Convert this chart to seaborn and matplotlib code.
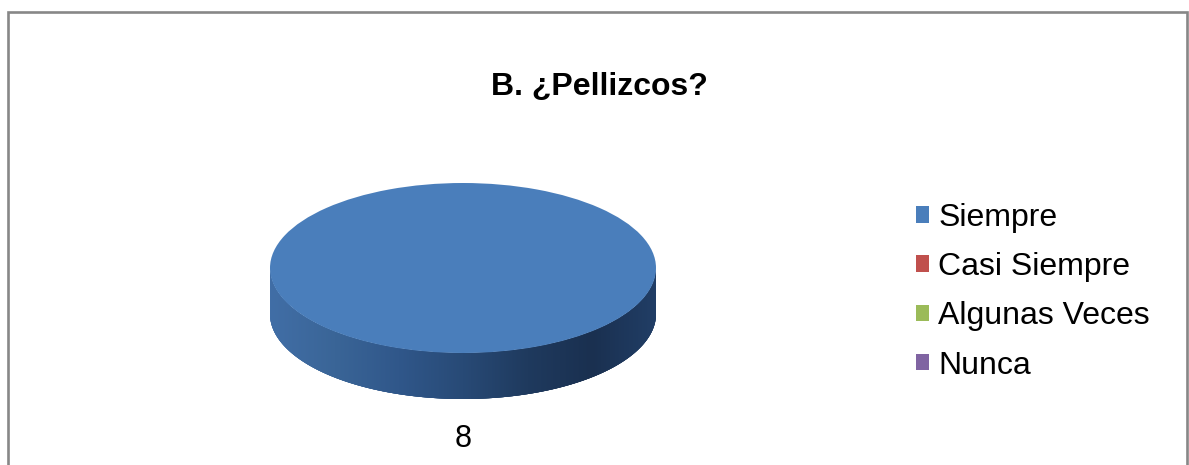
import numpy as np
import matplotlib
matplotlib.use("Agg")
import matplotlib.pyplot as plt
import seaborn as sns
from matplotlib.patches import Patch, Rectangle, PathPatch
from matplotlib.path import Path
from matplotlib.colors import LinearSegmentedColormap

# Survey answers for question B
categories = ["Siempre", "Casi Siempre", "Algunas Veces", "Nunca"]
counts = [8, 0, 0, 0]
title = "B. ¿Pellizcos?"

sns.set_theme(style="white")
plt.rcParams["font.family"] = ["Liberation Sans", "DejaVu Sans"]
plt.rcParams["text.color"] = "black"

palette = sns.color_palette(["#4a7ebb", "#c0504d", "#9bbb59", "#8064a2"])

W, H = 1189, 465
fig = plt.figure(figsize=(W / 100, H / 100), dpi=100)
fig.patch.set_facecolor("white")

# pie geometry in pixels: horizontal radius, vertical radius, thickness
cx, cy = 463, 268
rx, ry = 193, 85
depth_px = 46
depth = depth_px / ry
ylo, yhi = -2.3, 1.25
xl = 1.25
ax = fig.add_axes([(cx - xl * rx) / W, (H - cy + ylo * ry) / H,
                   2 * xl * rx / W, (yhi - ylo) * ry / H])

wedges, _ = ax.pie(counts, colors=palette, startangle=90, counterclock=False,
                   wedgeprops=dict(linewidth=0))
ax.set_aspect("auto")
ax.set_xlim(-xl, xl)
ax.set_ylim(ylo, yhi)
ax.axis("off")

side_cmap = LinearSegmentedColormap.from_list(
    "side", ["#416ea6", "#3a6597", "#30578a", "#284a76", "#1f3a5e",
             "#1a3050", "#213e66"])

# side faces for the front-facing part of each wedge
for w in wedges:
    t1, t2 = sorted((w.theta1 % 360, w.theta2 % 360)) if (w.theta2 - w.theta1) < 360 else (180, 360)
    a, b = max(t1, 180), min(t2 if t2 > t1 else t2 + 360, 360)
    if b <= a:
        continue
    th = np.radians(np.linspace(a, b, 200))
    top = np.column_stack([np.cos(th), np.sin(th)])
    bot = np.column_stack([np.cos(th[::-1]), np.sin(th[::-1]) - depth])
    verts = np.vstack([top, bot, top[:1]])
    codes = [Path.MOVETO] + [Path.LINETO] * (len(verts) - 2) + [Path.CLOSEPOLY]
    clip = PathPatch(Path(verts, codes), facecolor="none", edgecolor="none")
    ax.add_patch(clip)
    grad = np.linspace(0, 1, 256).reshape(1, -1)
    im = ax.imshow(grad, cmap=side_cmap, extent=(-1, 1, -1 - depth, 0),
                   aspect="auto", zorder=0.5)
    im.set_clip_path(clip)

for w in wedges:
    w.set_zorder(2)

# value labels below the disc
for w, v in zip(wedges, counts):
    if v == 0:
        continue
    mid = np.radians((w.theta1 + w.theta2) / 2)
    ax.text(1.47 * np.cos(mid), 1.47 * np.sin(mid) - depth, str(v),
            ha="center", va="center", fontsize=22, color="black")

ax.set_xlim(-xl, xl)
ax.set_ylim(ylo, yhi)

fig.text(599 / W, 1 - 87 / H, title, ha="center", va="center",
         fontsize=23, fontweight="bold", color="black")

handles = [Patch(facecolor=c, edgecolor="none") for c in palette]
fig.legend(handles, categories, loc="upper left",
           bbox_to_anchor=(916 / W, 1 - 203 / H), frameon=False,
           fontsize=23, handlelength=0.42, handleheight=0.42,
           handletextpad=0.27, labelspacing=0.6, borderpad=0,
           borderaxespad=0, labelcolor="black")

fig.patches.append(Rectangle((7.5 / W, -0.05), 1179 / W, 1 - 11.5 / H + 0.05,
                             transform=fig.transFigure, fill=False,
                             edgecolor="#878787", linewidth=1.9))

fig.savefig("out.png", dpi=100, facecolor="white")
